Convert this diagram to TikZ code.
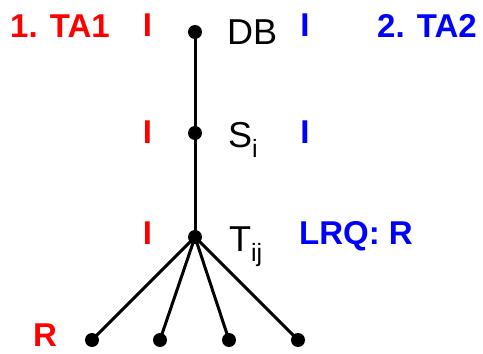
\documentclass[tikz,border=0pt]{standalone}
\usepackage{fontspec}
\setmainfont{Liberation Sans}
\usetikzlibrary{positioning}
\definecolor{taRed}{RGB}{255,0,0}
\definecolor{taBlue}{RGB}{0,0,255}
\newcommand{\lowsub}[1]{\raisebox{-10pt}{\fontsize{25}{25}\selectfont #1}}

\tikzset{
  vtx/.style={circle, fill=black, inner sep=0pt, minimum size=14pt},
  edge/.style={line width=3pt},
  lbl/.style={font=\fontsize{36}{36}\selectfont, inner sep=0pt, anchor=base west},
  tag/.style={font=\fontsize{33}{33}\selectfont\bfseries, inner sep=0pt},
}

\begin{document}
\begin{tikzpicture}[x=1pt, y=1pt]
  \useasboundingbox (0,0) rectangle (483,354);
  % tree
  \node[vtx] (db) at (195,322) {};
  \node[vtx] (si) at (195,221) {};
  \node[vtx] (tij) at (195,117) {};
  \foreach \k/\x in {1/92, 2/160, 3/229, 4/298}
    \node[vtx] (r\k) at (\x,14) {};
  \draw[edge] (db.center) -- (si.center) -- (tij.center);
  \foreach \k in {1,...,4}
    \draw[edge] (tij.center) -- (r\k.center);
  % node names
  \node[lbl] (dbname) at (227,309) {DB};
  \node[lbl] (siname) at (228,206) {S\lowsub{i}};
  \node[lbl] (tijname) at (229,102) {T\lowsub{ij}};
  % transaction 1
  \node[tag, taRed] (ta1) at (60,328) {1. TA1};
  \node[tag, taRed] (ta1db) at (147.5,328.5) {I};
  \node[tag, taRed] (ta1si) at (147.5,222) {I};
  \node[tag, taRed] (ta1tij) at (147.5,121) {I};
  \node[tag, taRed] (ta1r) at (45,19) {R};
  % transaction 2
  \node[tag, taBlue] (ta2) at (427,328) {2. TA2};
  \node[tag, taBlue] (ta2db) at (305,329) {I};
  \node[tag, taBlue] (ta2si) at (305,222) {I};
  \node[tag, taBlue] (ta2tij) at (356,118) {LRQ: R};
\end{tikzpicture}
\end{document}
